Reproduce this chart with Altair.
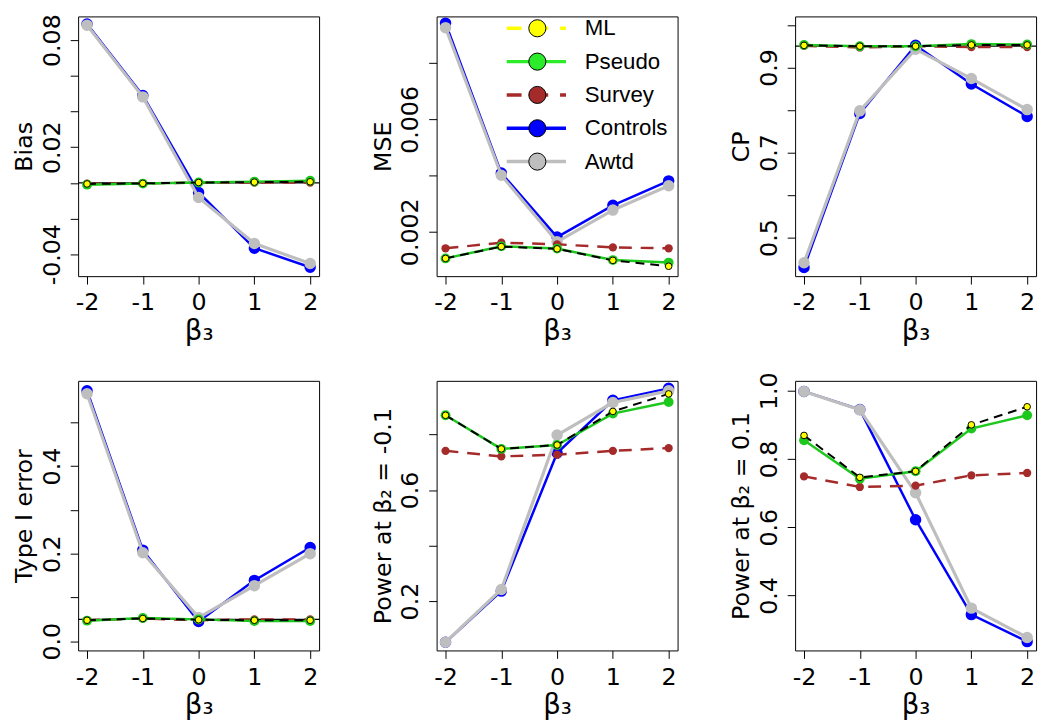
import altair as alt
import pandas as pd

# ---------------- data ----------------
beta3 = [-2, -1, 0, 1, 2]
beta3_labels = ["-2", "-1", "0", "1", "2"]
series_names = ["ML", "Pseudo", "Survey", "Controls", "Awtd"]

bias = {
    "ML":       [-0.0006, -0.0003, 0.0002, 0.0004, 0.0006],
    "Pseudo":   [-0.0010, -0.0004, 0.0002, 0.0007, 0.0012],
    "Survey":   [-0.0005, -0.0003, 0.0001, 0.0002, 0.0001],
    "Controls": [0.0890, 0.0490, -0.0054, -0.0366, -0.0473],
    "Awtd":     [0.0884, 0.0482, -0.0082, -0.0340, -0.0452],
}
mse = {
    "ML":       [0.00105, 0.00147, 0.00139, 0.00098, 0.00077],
    "Pseudo":   [0.00105, 0.00148, 0.00140, 0.00099, 0.00090],
    "Survey":   [0.00141, 0.00161, 0.00155, 0.00144, 0.00141],
    "Controls": [0.00943, 0.00409, 0.00181, 0.00294, 0.00381],
    "Awtd":     [0.00927, 0.00401, 0.00164, 0.00277, 0.00364],
}
cp = {
    "ML":       [0.952, 0.950, 0.950, 0.953, 0.953],
    "Pseudo":   [0.953, 0.950, 0.950, 0.955, 0.954],
    "Survey":   [0.951, 0.947, 0.950, 0.948, 0.948],
    "Controls": [0.430, 0.792, 0.952, 0.861, 0.785],
    "Awtd":     [0.441, 0.798, 0.943, 0.874, 0.801],
}
type1 = {
    "ML":       [0.048, 0.052, 0.049, 0.048, 0.048],
    "Pseudo":   [0.047, 0.053, 0.050, 0.046, 0.046],
    "Survey":   [0.048, 0.052, 0.048, 0.050, 0.050],
    "Controls": [0.572, 0.208, 0.045, 0.139, 0.214],
    "Awtd":     [0.565, 0.202, 0.054, 0.127, 0.200],
}
power_neg = {
    "ML":       [0.869, 0.748, 0.762, 0.883, 0.946],
    "Pseudo":   [0.869, 0.748, 0.762, 0.875, 0.917],
    "Survey":   [0.741, 0.721, 0.727, 0.741, 0.751],
    "Controls": [0.052, 0.236, 0.733, 0.923, 0.966],
    "Awtd":     [0.052, 0.242, 0.798, 0.915, 0.957],
}
power_pos = {
    "ML":       [0.869, 0.746, 0.764, 0.900, 0.953],
    "Pseudo":   [0.855, 0.742, 0.764, 0.889, 0.928],
    "Survey":   [0.749, 0.718, 0.722, 0.752, 0.759],
    "Controls": [0.998, 0.945, 0.622, 0.344, 0.265],
    "Awtd":     [0.998, 0.944, 0.701, 0.363, 0.277],
}

# tick values and the labels R printed (others left blank)
bias_ticks = [-0.04, -0.02, 0.0, 0.02, 0.04, 0.06, 0.08]
bias_tick_text = ["-0.04", "", "", "0.02", "", "", "0.08"]
mse_ticks = [0.002, 0.004, 0.006, 0.008]
mse_tick_text = ["0.002", "", "0.006", ""]
cp_ticks = [0.5, 0.6, 0.7, 0.8, 0.9, 1.0]
cp_tick_text = ["0.5", "", "0.7", "", "0.9", ""]
type1_ticks = [0.0, 0.1, 0.2, 0.3, 0.4, 0.5]
type1_tick_text = ["0.0", "", "0.2", "", "0.4", ""]
pneg_ticks = [0.2, 0.4, 0.6, 0.8]
pneg_tick_text = ["0.2", "", "0.6", ""]
ppos_ticks = [0.4, 0.6, 0.8, 1.0]
ppos_tick_text = ["0.4", "0.6", "0.8", "1.0"]

AX_FONT = "DejaVu Sans"
LEG_FONT = "Liberation Sans"
LABEL_SIZE = 24
TITLE_SIZE = 24
XTITLE_SIZE = 28

# plotting styles
styles = {
    "Controls": dict(line="#0000FF", width=2.5, dash=None, fill="#0000FF", size=135, stroke=None),
    "Awtd":     dict(line="#BEBEBE", width=3.2, dash=None, fill="#BEBEBE", size=135, stroke=None),
    "Survey":   dict(line="#A52A2A", width=2.5, dash=[13, 9], fill="#A52A2A", size=70, stroke=None),
    "Pseudo":   dict(line="#1DC81D", width=2.5, dash=None, fill="#1DC81D", size=100, stroke=None),
    "ML":       dict(line="#000000", width=2.0, dash=[9, 6], fill="#FFFF00", size=45, stroke="#000000"),
}
draw_order = ["Controls", "Awtd", "REF", "Survey", "Pseudo", "ML"]

legend_line_colors = ["#FFFF00", "#2BEB2B", "#A52A2A", "#0000FF", "#BEBEBE"]
legend_fill_colors = ["#FFFF00", "#2BEB2B", "#A52A2A", "#0000FF", "#BEBEBE"]
legend_dashes = [[15, 12], [1, 0], [15, 12], [1, 0], [1, 0]]


def label_expr(ticks, texts):
    vals = "[" + ",".join(repr(float(t)) for t in ticks) + "]"
    txt = "[" + ",".join("'" + t + "'" for t in texts) + "]"
    return f"{txt}[indexof({vals}, datum.value)]"


def make_panel(vals, ydom, ticks, texts, ytitle, height, ref=None, legend=False):
    rows = []
    for s in series_names:
        for b, v in zip(beta3, vals[s]):
            rows.append({"series": s, "beta3": b, "value": v})
    df = pd.DataFrame(rows)

    xax = alt.Axis(values=beta3, labelExpr=label_expr(beta3, beta3_labels), title="β₃",
                   labelFontSize=LABEL_SIZE, titleFontSize=XTITLE_SIZE, tickSize=8,
                   labelPadding=7, titlePadding=3, domain=False, grid=False,
                   labelFlush=False, labelOverlap=False, tickColor="black",
                   labelColor="black", titleColor="black", titleFontWeight="normal",
                   labelFont=AX_FONT, titleFont=AX_FONT)
    yax = alt.Axis(values=ticks, labelExpr=label_expr(ticks, texts), title=ytitle,
                   labelAngle=270, labelAlign="center", labelBaseline="bottom",
                   labelFontSize=LABEL_SIZE, titleFontSize=TITLE_SIZE, tickSize=8,
                   labelPadding=6, minExtent=38, maxExtent=38, titlePadding=4,
                   domain=False, grid=False, labelFlush=False, labelOverlap=False,
                   tickColor="black", labelColor="black", titleColor="black",
                   titleFontWeight="normal", labelFont=AX_FONT, titleFont=AX_FONT)
    xenc = alt.X("beta3:Q", scale=alt.Scale(domain=[-2.16, 2.16], nice=False, zero=False), axis=xax)
    yenc = alt.Y("value:Q", scale=alt.Scale(domain=ydom, nice=False, zero=False), axis=yax)

    base = alt.Chart(df)
    layers = []
    for s in draw_order:
        if s == "REF":
            if ref is not None:
                rdf = pd.DataFrame({"value": [ref]})
                layers.append(alt.Chart(rdf).mark_rule(color="black", strokeWidth=1.2).encode(y=yenc))
            continue
        st = styles[s]
        sub = base.transform_filter(alt.datum.series == s)
        lkw = dict(color=st["line"], strokeWidth=st["width"])
        if st["dash"]:
            lkw["strokeDash"] = st["dash"]
        layers.append(sub.mark_line(**lkw).encode(x=xenc, y=yenc))
        pkw = dict(color=st["fill"], size=st["size"], opacity=1)
        if st["stroke"]:
            pkw.update(stroke=st["stroke"], strokeWidth=1, strokeOpacity=1)
        layers.append(sub.mark_circle(**pkw).encode(x=xenc, y=yenc))
    chart = alt.layer(*layers)

    if legend:
        ldf = pd.DataFrame({"series": series_names, "row": list(range(len(series_names)))})
        lb = alt.Chart(ldf)
        ly = alt.Y("row:Q", scale=alt.Scale(domain=[0, 4], range=[12, 147], nice=False, zero=False), axis=None)
        lcol = alt.Color("series:N", scale=alt.Scale(domain=series_names, range=legend_line_colors), legend=None)
        lfill = alt.Fill("series:N", scale=alt.Scale(domain=series_names, range=legend_fill_colors), legend=None)
        ldash = alt.StrokeDash("series:N", scale=alt.Scale(domain=series_names, range=legend_dashes), legend=None)
        lrule = lb.mark_rule(strokeWidth=3.5).encode(x=alt.value(71), x2=alt.value(131), y=ly,
                                                        color=lcol, strokeDash=ldash)
        lpt = lb.mark_point(filled=False, size=300, stroke="black", strokeWidth=1, opacity=1,
                            fillOpacity=1, shape="circle").encode(x=alt.value(102), y=ly, fill=lfill)
        ltxt = lb.mark_text(align="left", baseline="middle", fontSize=22.5, font=LEG_FONT,
                            color="black").encode(x=alt.value(150), y=ly, text="series:N")
        chart = alt.layer(chart, lrule, lpt, ltxt).resolve_scale(y="independent")

    return chart.properties(width=244, height=height)


TOP_H = 263
BOT_H = 273
p1 = make_panel(bias, [-0.0523, 0.0933], bias_ticks, bias_tick_text, "Bias", TOP_H, ref=0.0)
p2 = make_panel(mse, [0.000417, 0.00967], mse_ticks, mse_tick_text, "MSE", TOP_H, legend=True)
p3 = make_panel(cp, [0.4094, 1.020], cp_ticks, cp_tick_text, "CP", TOP_H, ref=0.95)
p4 = make_panel(type1, [-0.021, 0.5946], type1_ticks, type1_tick_text, "Type I error", BOT_H, ref=0.05)
p5 = make_panel(power_neg, [0.0224, 0.993], pneg_ticks, pneg_tick_text, "Power at β₂ = -0.1", BOT_H)
p6 = make_panel(power_pos, [0.239, 1.0289], ppos_ticks, ppos_tick_text, "Power at β₂ = 0.1", BOT_H)

chart = alt.concat(p1, p2, p3, p4, p5, p6, columns=3,
                   spacing={"row": 96, "column": 119},
                   bounds="flush", align="all").properties(
    padding={"left": 4, "top": 0, "right": 4, "bottom": 4}
).configure(font=AX_FONT).configure_view(stroke="black", strokeWidth=1)

chart.save("out.html", embed_options={"renderer": "svg", "actions": False})
